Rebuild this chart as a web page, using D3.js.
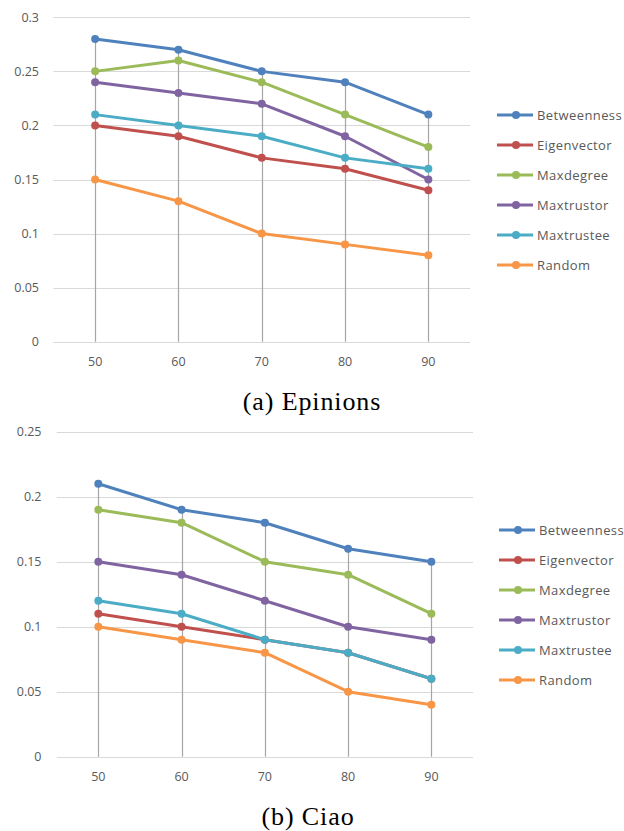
<!DOCTYPE html>
<html><head><meta charset="utf-8">
<script src="https://cdn.jsdelivr.net/npm/d3@7"></script>
<style>
html,body{margin:0;padding:0;background:#fff;}
svg{display:block;}
</style></head>
<body>
<svg id="c" width="624" height="831"></svg>
<script>
const categories = ["50","60","70","80","90"];
const seriesNames = ["Betweenness","Eigenvector","Maxdegree","Maxtrustor","Maxtrustee","Random"];
const colors = ["#4F81BD","#C0504D","#9BBB59","#8064A2","#4BACC6","#F79646"];

const epinionsBetweenness = [0.28,0.27,0.25,0.24,0.21];
const epinionsEigenvector = [0.20,0.19,0.17,0.16,0.14];
const epinionsMaxdegree   = [0.25,0.26,0.24,0.21,0.18];
const epinionsMaxtrustor  = [0.24,0.23,0.22,0.19,0.15];
const epinionsMaxtrustee  = [0.21,0.20,0.19,0.17,0.16];
const epinionsRandom      = [0.15,0.13,0.10,0.09,0.08];

const ciaoBetweenness = [0.21,0.19,0.18,0.16,0.15];
const ciaoEigenvector = [0.11,0.10,0.09,0.08,0.06];
const ciaoMaxdegree   = [0.19,0.18,0.15,0.14,0.11];
const ciaoMaxtrustor  = [0.15,0.14,0.12,0.10,0.09];
const ciaoMaxtrustee  = [0.12,0.11,0.09,0.08,0.06];
const ciaoRandom      = [0.10,0.09,0.08,0.05,0.04];

const epinionsTicks = [0,0.05,0.1,0.15,0.2,0.25,0.3];
const ciaoTicks = [0,0.05,0.1,0.15,0.2,0.25];

const svg = d3.select("#c");

function drawChart(cfg){
  const data = cfg.series;
  const g = svg.append("g");
  const x = d3.scaleBand().domain(categories).range([cfg.left, cfg.right]);
  const cx = d => x(d) + x.bandwidth()/2;
  const y = d3.scaleLinear().domain([0, cfg.max]).range([cfg.bottom, cfg.top]);

  // gridlines
  g.append("g").selectAll("line").data(cfg.ticks).join("line")
    .attr("x1", cfg.left).attr("x2", cfg.right)
    .attr("y1", d=>Math.round(y(d))+0.5).attr("y2", d=>Math.round(y(d))+0.5)
    .attr("stroke","#D9D9D9").attr("stroke-width",1);

  // y axis labels
  const yAxis = d3.axisLeft(y).tickValues(cfg.ticks).tickSize(0).tickPadding(0)
    .tickFormat(d => d3.format("")(+d.toFixed(2)));
  const ya = g.append("g").attr("transform",`translate(${cfg.labelRight},0)`).call(yAxis);
  ya.select(".domain").remove();
  ya.selectAll("text").attr("fill","#595959").style("font-family","'Open Sans', sans-serif").style("font-size","12.5px");

  // x axis labels
  const xAxis = d3.axisBottom(x).tickSize(0).tickPadding(0);
  const xa = g.append("g").attr("transform",`translate(0,${cfg.xLabelY})`).call(xAxis);
  xa.select(".domain").remove();
  xa.selectAll("text").attr("fill","#595959").attr("dy","0.32em").style("font-family","'Open Sans', sans-serif").style("font-size","12.5px");

  // drop lines
  const maxes = categories.map((c,i)=>d3.max(data, s=>s[i]));
  g.append("g").selectAll("line").data(categories).join("line")
    .attr("x1", d=>Math.round(cx(d))+0.5).attr("x2", d=>Math.round(cx(d))+0.5)
    .attr("y1", (d,i)=>y(maxes[i])).attr("y2", y(0))
    .attr("stroke","#A6A6A6").attr("stroke-width",1.2);

  // series
  const line = d3.line().x((v,i)=>cx(categories[i])).y(v=>y(v));
  data.forEach((s,k)=>{
    const sg = g.append("g");
    sg.append("path").datum(s).attr("d",line).attr("fill","none")
      .attr("stroke",colors[k]).attr("stroke-width",3).attr("stroke-linejoin","round").attr("stroke-linecap","round");
    sg.selectAll("circle").data(s).join("circle")
      .attr("cx",(v,i)=>cx(categories[i])).attr("cy",v=>y(v)).attr("r",4)
      .attr("fill",colors[k]);
  });

  // legend
  const lg = g.append("g");
  seriesNames.forEach((n,k)=>{
    const ly = cfg.legendY + k*cfg.legendStep;
    lg.append("line").attr("x1",cfg.legendX).attr("x2",cfg.legendX+36).attr("y1",ly).attr("y2",ly)
      .attr("stroke",colors[k]).attr("stroke-width",3);
    lg.append("circle").attr("cx",cfg.legendX+19).attr("cy",ly).attr("r",4).attr("fill",colors[k]);
    lg.append("text").attr("x",cfg.legendX+40).attr("y",ly).attr("dy","0.35em")
      .attr("fill","#595959").style("font-family","'Open Sans', sans-serif").style("font-size","13px")
      .style("letter-spacing","0.4px").text(n);
  });

  // caption
  g.append("text").attr("x",cfg.capX).attr("y",cfg.capY).attr("text-anchor","middle").attr("dy","0.33em")
    .attr("fill","#000").style("font-family","'Liberation Serif', serif").style("font-size","26px")
    .style("letter-spacing","0.9px").text(cfg.caption);
}

drawChart({
  series:[epinionsBetweenness,epinionsEigenvector,epinionsMaxdegree,epinionsMaxtrustor,epinionsMaxtrustee,epinionsRandom],
  ticks: epinionsTicks, max:0.3, left:53.5, right:470, top:17.3, bottom:341.7,
  labelRight:39, xLabelY:361.5, legendX:497, legendY:115, legendStep:30,
  caption:"(a) Epinions", capX:312, capY:401.5
});
drawChart({
  series:[ciaoBetweenness,ciaoEigenvector,ciaoMaxdegree,ciaoMaxtrustor,ciaoMaxtrustee,ciaoRandom],
  ticks: ciaoTicks, max:0.25, left:56.7, right:473, top:431.7, bottom:756.7,
  labelRight:41.5, xLabelY:776.5, legendX:499, legendY:530, legendStep:30,
  caption:"(b) Ciao", capX:308, capY:816.5
});
</script>
</body></html>
